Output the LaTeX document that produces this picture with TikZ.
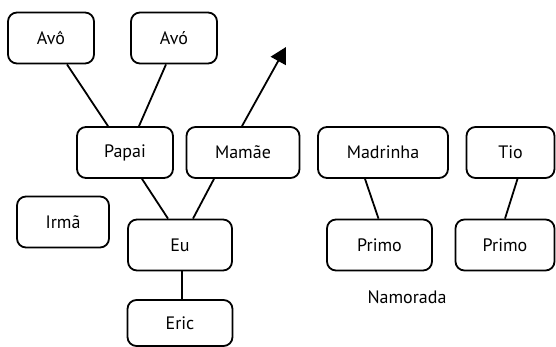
\documentclass[tikz,border=0pt]{standalone}
\usepackage{fontspec}
\setmainfont{PT Sans}
\usetikzlibrary{arrows.meta}

\begin{document}
\begin{tikzpicture}[
    x = 1pt,
    y = -1pt,
    line width = 1.8pt,
    >={Triangle[length=16pt,width=17pt]},
    every node/.style = {
      font = \fontsize{18}{20}\selectfont
    },
    person/.style = {
      draw,
      rounded corners = 9pt,
      inner sep = 0pt,
      minimum height = 51pt
    }
  ]
  \useasboundingbox (0,0) rectangle (556,347);

  \node[person, minimum width = 86pt] (avo) at (51,38) {Avô};
  \node[person, minimum width = 86pt] (avoa) at (174,38) {Avó};

  \node[person, minimum width = 96pt] (papai) at (125,152.5) {Papai};
  \node[person, minimum width = 113pt] (mamae) at (243,152.5) {Mamãe};
  \node[person, minimum width = 130pt] (madrinha) at (383,152.5) {Madrinha};
  \node[person, minimum width = 88pt] (tio) at (510.5,152.5) {Tio};

  \node[person, minimum width = 92pt] (irma) at (63,222) {Irmã};
  \node[person, minimum width = 104pt] (eu) at (180,245) {Eu};
  \node[person, minimum width = 105pt] (primo) at (379.5,245) {Primo};
  \node[person, minimum width = 99pt] (primob) at (505,245) {Primo};

  \node[person, minimum width = 105pt, minimum height = 46pt] (eric) at (180,323) {Eric};

  \node (namorada) at (407,297) {Namorada};

  \coordinate (fora) at (286,47);

  \draw ([xshift=16pt]avo.south) -- ([xshift=-17pt]papai.north);
  \draw ([xshift=-8pt]avoa.south) -- ([xshift=14pt]papai.north);
  \draw ([xshift=17pt]papai.south) -- ([xshift=-12pt]eu.north);
  \draw ([xshift=-29pt]mamae.south) -- ([xshift=13pt]eu.north);
  \draw[->] ([xshift=-1pt]mamae.north) -- (fora);
  \draw ([xshift=-18pt]madrinha.south) -- ([xshift=-1pt]primo.north);
  \draw ([xshift=7pt]tio.south) -- (primob.north);
  \draw ([xshift=2pt]eu.south) -- ([xshift=2pt]eric.north);
\end{tikzpicture}
\end{document}
